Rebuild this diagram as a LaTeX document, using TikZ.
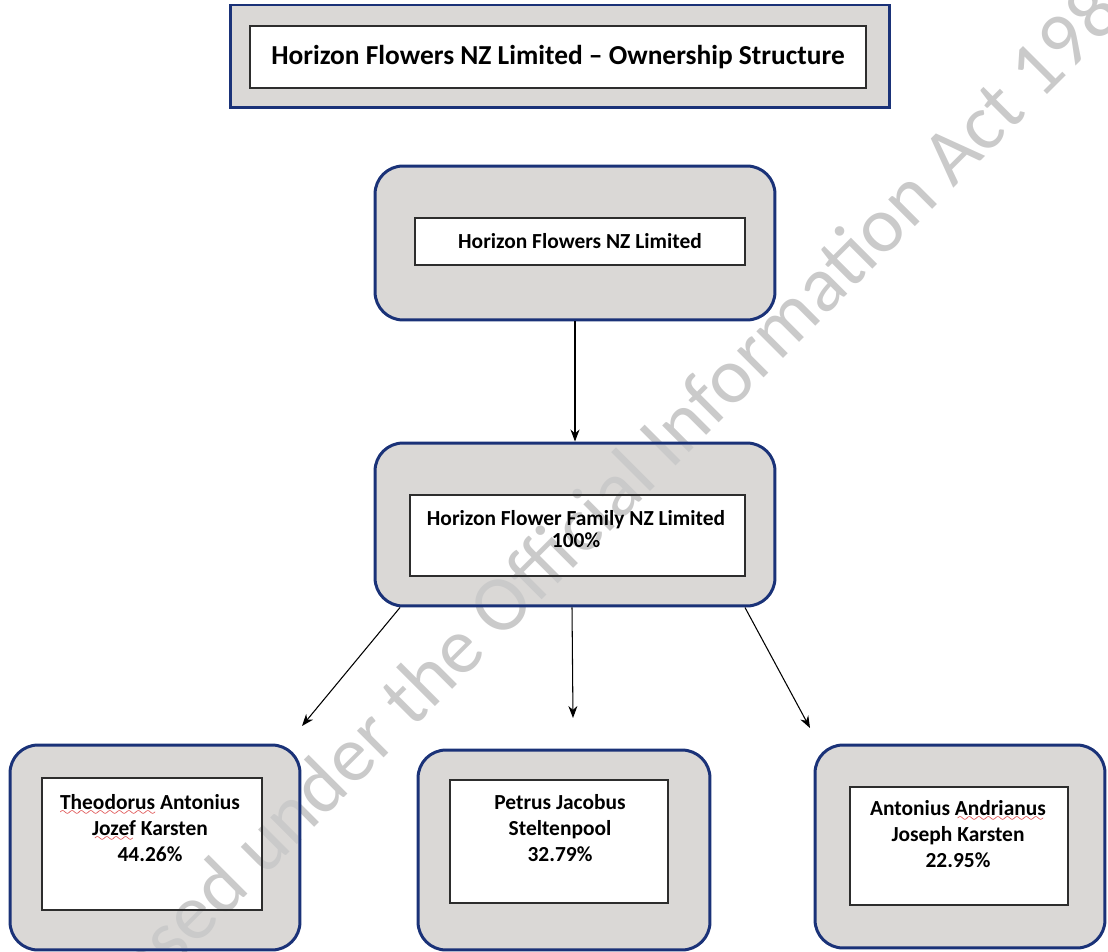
\documentclass[tikz,border=0pt]{standalone}
\usepackage{fontspec}
\setmainfont{Carlito}
\usepackage{tikz}
\usetikzlibrary{arrows.meta, positioning, calc}
\definecolor{ownEdge}{RGB}{26,50,120}
\definecolor{ownFill}{RGB}{218,216,214}
\definecolor{boxLine}{RGB}{45,45,45}
\definecolor{spellRed}{RGB}{215,35,35}
\definecolor{wmGray}{RGB}{202,202,202}
\font\spellwv=lasy7
\newcommand{\spellwave}[1]{\setbox0\hbox{#1}\leavevmode\rlap{\cleaders\hbox{{\color{spellRed}\lower3.6pt\hbox{\spellwv\char58}}}\hskip\wd0}\box0\relax}

\begin{document}
\begin{tikzpicture}[
    x=0.02cm, y=-0.02cm,
    titleouter/.style={rectangle, draw=ownEdge, line width=1.7pt, fill=ownFill},
    outer/.style={rectangle, draw=ownEdge, line width=1.7pt, fill=ownFill, rounded corners=0.56cm},
    inner/.style={rectangle, draw=boxLine, line width=0.8pt, fill=white, inner sep=0pt, align=center},
    lbl/.style={align=center, inner sep=0pt, font=\fontsize{12.2}{15}\selectfont\bfseries},
    arrow/.style={-{Stealth[length=2.4mm, width=1.8mm]}, line width=0.6pt, black}
]
\useasboundingbox (0,0) rectangle (1108,952);

% --- Título ---
\node[titleouter, minimum width=13.2cm, minimum height=2.06cm] (titleOuter) at (560,56.5) {};
\node[inner, minimum width=12.32cm, minimum height=1.24cm,
      font=\fontsize{15.6}{18}\selectfont\bfseries] (titleInner) at (558,57)
    {Horizon Flowers NZ Limited -- Ownership Structure};

% --- Empresa operacional ---
\node[outer, minimum width=8cm, minimum height=3.08cm] (hfOuter) at (575,243) {};
\node[inner, minimum width=6.6cm, minimum height=0.94cm,
      font=\fontsize{12.2}{15}\selectfont\bfseries] (hfInner) at (580,241.5)
    {Horizon Flowers NZ Limited};

% --- Holding ---
\node[outer, minimum width=8cm, minimum height=3.26cm] (famOuter) at (575,524.5) {};
\node[inner, minimum width=6.7cm, minimum height=1.62cm] (famInner) at (577.5,535.5) {};
\node[lbl, font=\fontsize{12.2}{12.6}\selectfont\bfseries] (famText) at (576,529)
    {Horizon Flower Family NZ Limited\\100\%};

% --- Acionistas ---
\node[outer, minimum width=5.8cm, minimum height=4.1cm] (tkOuter) at (155,847.5) {};
\node[inner, minimum width=4.4cm, minimum height=2.64cm] (tkInner) at (152,844) {};
\node[lbl] (tkText) at (150,828)
    {\spellwave{Theodorus} Antonius\\\spellwave{Jozef} Karsten\\44.26\%};

\node[outer, minimum width=5.84cm, minimum height=4cm] (psOuter) at (564,850) {};
\node[inner, minimum width=4.36cm, minimum height=2.46cm] (psInner) at (559,841.5) {};
\node[lbl] (psText) at (560,828)
    {Petrus Jacobus\\Steltenpool\\32.79\%};

\node[outer, minimum width=5.8cm, minimum height=4.06cm] (akOuter) at (960,846.5) {};
\node[inner, minimum width=4.36cm, minimum height=2.36cm] (akInner) at (959,846) {};
\node[lbl] (akText) at (958,834)
    {Antonius \spellwave{Andrianus}\\Joseph Karsten\\22.95\%};

% === SETAS ===
\draw[arrow] (hfOuter.south) -- (famOuter.north);

\coordinate (tipTk) at (302,726);
\coordinate (tipPs) at (573,718);
\coordinate (tipAk) at (810,728);
\draw[arrow] ([xshift=-3.5cm]famOuter.south) -- (tipTk);
\draw[arrow] (famOuter.south) ++(-3,0) -- (tipPs);
\draw[arrow] ([xshift=3.4cm]famOuter.south) -- (tipAk);

% marca d'água
\begin{scope}[blend mode=darken]
\clip (0,0) rectangle (1108,952);
\node[rotate=45, anchor=base, text=wmGray, inner sep=0pt,
      font=\fontsize{45}{45}\selectfont] (watermark) at (601,541)
    {Released under the Official Information Act 1982};
\end{scope}

\end{tikzpicture}
\end{document}
